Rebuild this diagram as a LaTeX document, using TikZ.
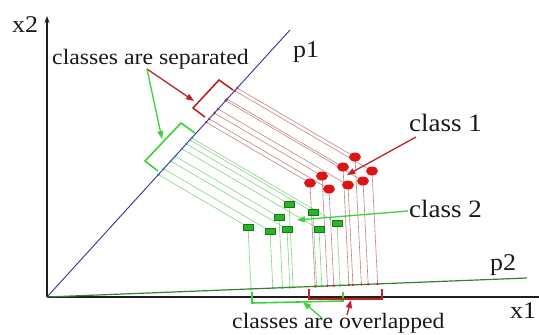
\documentclass[tikz,border=0pt]{standalone}
\usepackage{fontspec}
\setmainfont[FakeStretch=1.08]{Liberation Serif}
\usetikzlibrary{arrows.meta,calc,shapes.geometric}
\definecolor{axisc}{RGB}{30,30,30}
\definecolor{pone}{RGB}{50,50,150}
\definecolor{ptwo}{RGB}{50,130,50}
\definecolor{darkred}{RGB}{190,35,40}
\definecolor{brightgreen}{RGB}{60,210,60}
\definecolor{redpt}{RGB}{220,20,20}
\definecolor{greenpt}{RGB}{40,180,40}
\definecolor{greenptb}{RGB}{20,120,20}
\definecolor{redproj}{RGB}{195,130,130}
\definecolor{greenproj}{RGB}{135,210,135}
\definecolor{redfoot}{RGB}{150,50,110}
\definecolor{greenfoot}{RGB}{70,130,170}
\definecolor{txtc}{RGB}{25,25,25}
\tikzset{
  axisline/.style={draw=axisc, line width=1.6pt},
  rproj/.style={draw=redproj, line width=0.6pt},
  gproj/.style={draw=greenproj, line width=0.6pt},
  rpoint/.style={ellipse, fill=redpt, minimum width=12pt, minimum height=9pt, inner sep=0pt},
  gpoint/.style={rectangle, fill=greenpt, draw=greenptb, line width=0.4pt, minimum width=10pt, minimum height=6.5pt, inner sep=0pt},
  rbracket/.style={draw=darkred, line width=1.6pt},
  gbracket/.style={draw=brightgreen, line width=1.6pt},
  rarrow/.style={draw=darkred, line width=1.3pt, -{Triangle[length=8pt,width=6pt]}},
  garrow/.style={draw=brightgreen, line width=1.3pt, -{Triangle[length=8pt,width=6pt]}},
  txt/.style={inner sep=0pt, anchor=base west, text=txtc, font=\fontsize{22}{26}\selectfont},
  bigtxt/.style={inner sep=0pt, anchor=base west, text=txtc, font=\fontsize{25}{29}\selectfont},
  axtxt/.style={inner sep=0pt, anchor=base west, text=txtc, font=\fontsize{24}{28}\selectfont},
}
\begin{document}
\begin{tikzpicture}[x=1pt,y=-1pt]
\useasboundingbox (0,0) rectangle (539,335);
% axes and projection lines
\coordinate (O) at (47,297);
\coordinate (Ytop) at (47,16);
\coordinate (Xend) at (539,297);
\coordinate (P1) at (290,30);
\coordinate (P2) at (527,278);
\draw[axisline] (O) -- (Xend);
\draw[axisline, -{Stealth[length=7pt,width=5pt]}] (O) -- (Ytop);
\draw[draw=pone, line width=0.9pt] (O) -- (P1);
\draw[draw=ptwo, line width=1.2pt] (O) -- (P2);
% point positions
\foreach \n/\px/\py in {1/355/157,2/343/167,3/372/171,4/322/176,5/310/183,6/329/189,7/348/185,8/363/181}{
  \coordinate (r\n) at (\px,\py);
  \coordinate (ra\n) at ($(r\n)+(-100,-58.5)$);
  \coordinate (rb\n) at ($(r\n)+(5,100)$);
}
\foreach \n/\px/\py in {1/289/204,2/279/217,3/313/212,4/248/227,5/270/231,6/287/229,7/319/229,8/337/223}{
  \coordinate (g\n) at (\px,\py);
  \coordinate (ga\n) at ($(g\n)+(-100,-58.5)$);
  \coordinate (gb\n) at ($(g\n)+(5,100)$);
}
% projections
\foreach \n in {1,...,8}{
  \draw[gproj] (g\n) -- (intersection of O--P1 and g\n--ga\n) coordinate (gf\n);
  \draw[gproj] (g\n) -- (intersection of O--P2 and g\n--gb\n) coordinate (gh\n);
  \fill[greenfoot] (gf\n) circle (1.3pt);
  \fill[greenpt] (gh\n) circle (1.3pt);
}
\foreach \n in {1,...,8}{
  \draw[rproj] (r\n) -- (intersection of O--P1 and r\n--ra\n) coordinate (rf\n);
  \draw[rproj] (r\n) -- (intersection of O--P2 and r\n--rb\n) coordinate (rh\n);
  \fill[redfoot] (rf\n) circle (1.4pt);
  \fill[darkred] (rh\n) circle (1.3pt);
}
% points
\foreach \n in {1,...,8}{
  \node[gpoint] (G\n) at (g\n) {};
  \node[rpoint] (R\n) at (r\n) {};
}
% brackets
\draw[rbracket] (233,90) -- (219,80) -- (193,108) -- (205,117);
\draw[gbracket] (195,133) -- (181,123) -- (145,161) -- (158,171);
\draw[gbracket] (252,292) -- (252,303) -- (343,301) -- (343,292);
\draw[rbracket] (309,289) -- (309,299) -- (382,299) -- (382,289);
% labels
\node[axtxt] (x2) at (12,32) {x2};
\node[axtxt] (x1) at (510,318) {x1};
\node[axtxt] (p1) at (293,57) {p1};
\node[axtxt] (p2) at (490,270) {p2};
\node[bigtxt] (c1) at (409,131) {class 1};
\node[bigtxt] (c2) at (409,217) {class 2};
\node[txt] (sep) at (52,64) {classes are separated};
\node[txt] (ovl) at (232,328) {classes are overlapped};
% arrows
\coordinate (sepA) at (147,69);
\coordinate (c1A) at (416,137);
\coordinate (c2A) at (408,211);
\coordinate (ovG) at (322,318);
\coordinate (ovR) at (347,315);
\coordinate (tRB) at (194,101);
\coordinate (tGB) at (162,139);
\coordinate (tR) at (347,175);
\coordinate (tG) at (297,220);
\coordinate (tOG) at (303,302);
\coordinate (tOR) at (351,300);
\draw[rarrow] (sepA) -- (tRB);
\draw[garrow] (sepA) -- (tGB);
\draw[rarrow] (c1A) -- (tR);
\draw[garrow] (c2A) -- (tG);
\draw[garrow] (ovG) -- (tOG);
\draw[rarrow] (ovR) -- (tOR);
\end{tikzpicture}
\end{document}
